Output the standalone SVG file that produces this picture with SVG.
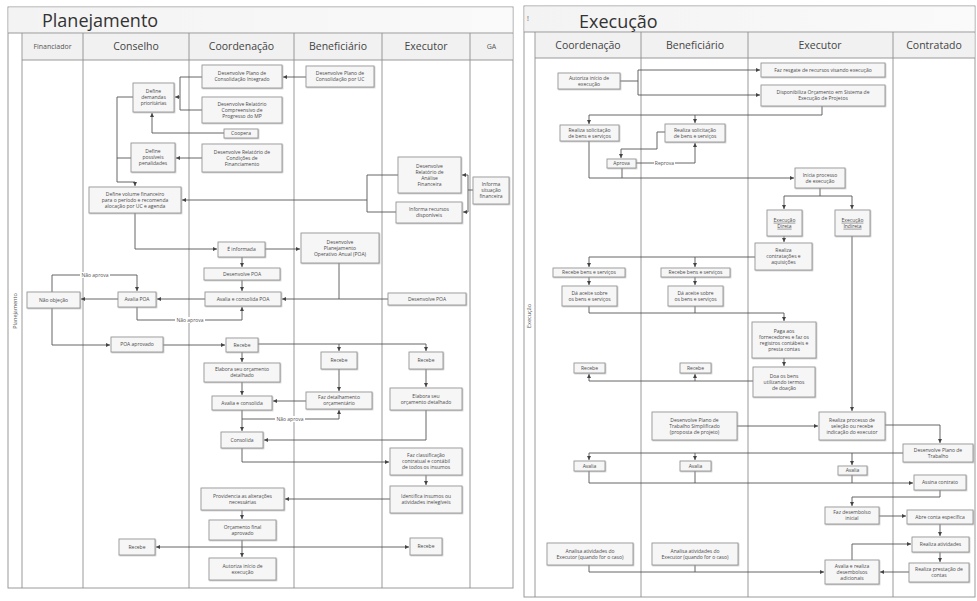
<svg xmlns="http://www.w3.org/2000/svg" width="977" height="601" viewBox="0 0 977 601">
<defs>
  <marker id="ah" viewBox="0 0 6 6" refX="6" refY="3" markerWidth="4" markerHeight="4" orient="auto" markerUnits="userSpaceOnUse">
    <path d="M0,0 L6,3 L0,6 z" fill="#444"/>
  </marker>
  <linearGradient id="band" x1="0" y1="0" x2="1" y2="0">
    <stop offset="0" stop-color="#f3f3f3"/>
    <stop offset="1" stop-color="#fafafa"/>
  </linearGradient>
  <filter id="sh" x="-10%" y="-10%" width="130%" height="140%">
    <feDropShadow dx="0.8" dy="0.8" stdDeviation="0.4" flood-color="#999" flood-opacity="0.6"/>
  </filter>
</defs>
<style>
  .frame{fill:#fff;stroke:#9a9a9a;stroke-width:1}
  .band{fill:url(#band)}
  .hdr{fill:#f1f1f1}
  .lane{stroke:#8f8f8f;stroke-width:0.9;fill:none}
  .title{font-family:"Open Sans","Liberation Sans",sans-serif;font-size:18px;fill:#333}
  .lh{font-family:"Open Sans","Liberation Sans",sans-serif;font-size:10.5px;fill:#444;text-anchor:middle}
  .lhs{font-family:"Open Sans","Liberation Sans",sans-serif;font-size:7px;fill:#555;text-anchor:middle}
  .pool{font-family:"Open Sans","Liberation Sans",sans-serif;font-size:5.5px;fill:#555;text-anchor:middle}
  .node rect{fill:#f6f6f6;stroke:#8c8c8c;stroke-width:0.8;filter:url(#sh)}
  .t{font-family:"Open Sans","Liberation Sans",sans-serif;font-size:5px;fill:#4a4a4a;text-anchor:middle}
  .u{text-decoration:underline}
  .ln{fill:none;stroke:#555;stroke-width:0.9}
  .ar{marker-end:url(#ah)}
  .lbl{font-family:"Open Sans","Liberation Sans",sans-serif;font-size:5px;fill:#555;text-anchor:middle}
  .lblbg{fill:#fff}
</style>

<rect width="977" height="601" fill="#fff"/>

<!-- ===== Planejamento pool ===== -->
<g id="pool-planejamento">
  <rect class="frame" x="8" y="7" width="505" height="581"/>
  <rect class="band" x="8.5" y="7.5" width="504" height="25.5"/>
  <rect class="hdr" x="22.5" y="33.5" width="490" height="26.5"/>
  <path class="lane" d="M8,33 H513 M22,60 H513 M22,33 V588 M83,33 V588 M189,33 V588 M294,33 V588 M382,33 V588 M470,33 V588"/>
  <text class="title" x="42" y="27">Planejamento</text>
  <text class="lhs" x="52.5" y="49">Financiador</text>
  <text class="lh" x="136" y="50">Conselho</text>
  <text class="lh" x="241.5" y="50">Coordenação</text>
  <text class="lh" x="338" y="50">Beneficiário</text>
  <text class="lh" x="426" y="50">Executor</text>
  <text class="lhs" x="491.5" y="49">GA</text>
  <text class="pool" transform="translate(17,311) rotate(-90)">Planejamento</text>
</g>

<!-- ===== Execução pool ===== -->
<g id="pool-execucao">
  <rect class="frame" x="524" y="6" width="451" height="591"/>
  <rect class="band" x="524.5" y="6.5" width="450" height="25.5"/>
  <rect class="hdr" x="535.5" y="32.5" width="439" height="25.5"/>
  <path class="lane" d="M524,32 H975 M535,58 H975 M535,32 V597 M641,32 V597 M748,32 V597 M893,32 V597"/>
  <text class="lhs" x="528" y="21">!</text>
  <text class="title" x="579" y="28">Execução</text>
  <text class="lh" x="588" y="49">Coordenação</text>
  <text class="lh" x="695" y="49">Beneficiário</text>
  <text class="lh" x="820" y="49">Executor</text>
  <text class="lh" x="934" y="49">Contratado</text>
  <text class="pool" transform="translate(531,316) rotate(-90)">Execução</text>
</g>

<!-- ===== connectors ===== -->
<g id="connectors">
  <!-- Planejamento -->
  <path class="ln ar" d="M306,77 H283"/>
  <path class="ln" d="M202,77 H180 V110 H202"/>
  <path class="ln ar" d="M180,97 H175"/>
  <path class="ln ar" d="M224,133 H152 V113"/>
  <path class="ln ar" d="M202,158 H176"/>
  <path class="ln ar" d="M133,97 H117 V182 H135 V186"/>
  <path class="ln" d="M131,158 H117"/>
  <path class="ln" d="M398,175 H367 V212 H396"/>
  <path class="ln ar" d="M367,200 H182"/>
  <path class="ln ar" d="M473,190 H468 V175 H462"/>
  <path class="ln ar" d="M468,190 V212 H463"/>
  <path class="ln ar" d="M135,213 V249 H217"/>
  <path class="ln ar" d="M265,249 H300"/>
  <path class="ln ar" d="M242,257 V267"/>
  <path class="ln ar" d="M242,280 V291"/>
  <path class="ln ar" d="M339,263 V299 H282"/>
  <path class="ln" d="M388,299 H339"/>
  <path class="ln ar" d="M205,299 H157"/>
  <path class="ln ar" d="M118,299 H81"/>
  <path class="ln ar" d="M52,292 V275 H137 V291"/>
  <path class="ln ar" d="M137,307 V320 H242 V307"/>
  <path class="ln ar" d="M52,308 V345 H110"/>
  <path class="ln ar" d="M163,345 H225"/>
  <path class="ln ar" d="M258,344 H426 V351"/>
  <path class="ln ar" d="M339,344 V351"/>
  <path class="ln ar" d="M242,352 V362"/>
  <path class="ln ar" d="M242,382 V395"/>
  <path class="ln ar" d="M339,369 V391"/>
  <path class="ln ar" d="M306,401 H273"/>
  <path class="ln ar" d="M242,410 V431"/>
  <path class="ln ar" d="M242,419 H339 V410"/>
  <path class="ln ar" d="M426,369 V387"/>
  <path class="ln ar" d="M426,410 V440 H264"/>
  <path class="ln ar" d="M242,448 V462 H389"/>
  <path class="ln ar" d="M426,475 V485"/>
  <path class="ln ar" d="M390,499 H285"/>
  <path class="ln ar" d="M242,510 V519"/>
  <path class="ln ar" d="M242,540 V557"/>
  <path class="ln ar" d="M242,547 H156"/>
  <path class="ln ar" d="M242,547 H409"/>
  <rect class="lblbg" x="80" y="272" width="30" height="6"/>
  <text class="lbl" x="95" y="276.8">Não aprova</text>
  <rect class="lblbg" x="175" y="317" width="30" height="6"/>
  <text class="lbl" x="190" y="321.8">Não aprova</text>
  <rect class="lblbg" x="275" y="416" width="30" height="6"/>
  <text class="lbl" x="290" y="420.8">Não aprova</text>

  <!-- Execução -->
  <path class="ln" d="M620,81 H638 M638,70 V95"/>
  <path class="ln ar" d="M638,70 H760"/>
  <path class="ln ar" d="M638,95 H760"/>
  <path class="ln ar" d="M822,106 V115 H589 V124"/>
  <path class="ln ar" d="M695,115 V123"/>
  <path class="ln ar" d="M589,141 V178 H794"/>
  <path class="ln" d="M622,168 V178"/>
  <path class="ln ar" d="M665,132 H657 V149 H621 V158"/>
  <path class="ln ar" d="M636,163 H695 V143"/>
  <rect class="lblbg" x="654" y="160" width="21" height="6"/>
  <text class="lbl" x="664.5" y="164.8">Reprova</text>
  <path class="ln" d="M820,188 V196 M784,196 H852"/>
  <path class="ln ar" d="M784,196 V209"/>
  <path class="ln ar" d="M852,196 V209"/>
  <path class="ln ar" d="M784,236 V242"/>
  <path class="ln ar" d="M755,257 H589 V267"/>
  <path class="ln ar" d="M695,257 V267"/>
  <path class="ln ar" d="M589,277 V285"/>
  <path class="ln ar" d="M695,277 V285"/>
  <path class="ln ar" d="M589,306 V313 H784 V321"/>
  <path class="ln" d="M695,306 V313"/>
  <path class="ln ar" d="M784,358 V366"/>
  <path class="ln ar" d="M753,381 H589 V374"/>
  <path class="ln ar" d="M695,381 V374"/>
  <path class="ln ar" d="M852,236 V411"/>
  <path class="ln ar" d="M737,426 H818"/>
  <path class="ln ar" d="M885,425 H940 V443"/>
  <path class="ln ar" d="M903,453 H589 V460"/>
  <path class="ln ar" d="M695,453 V460"/>
  <path class="ln ar" d="M852,453 V465"/>
  <path class="ln ar" d="M589,471 V483 H913"/>
  <path class="ln" d="M695,471 V483 M852,475 V483"/>
  <path class="ln ar" d="M940,490 V497 H852 V506"/>
  <path class="ln ar" d="M879,516 H906"/>
  <path class="ln ar" d="M940,524 V536"/>
  <path class="ln ar" d="M940,552 V562"/>
  <path class="ln ar" d="M909,572 H880"/>
  <path class="ln ar" d="M852,560 V544 H911"/>
  <path class="ln ar" d="M589,565 V572 H824"/>
  <path class="ln" d="M695,565 V572"/>
</g>

<!-- ===== Planejamento nodes ===== -->
<g id="p-coord-plano" class="node"><rect x="202" y="65" width="80" height="23"/><text class="t" x="242" y="75.3">Desenvolve Plano de<tspan x="242" dy="6">Consolidação Integrado</tspan></text></g>
<g id="p-coord-relatorio" class="node"><rect x="202" y="97" width="80" height="26"/><text class="t" x="242" y="105.8">Desenvolve Relatório<tspan x="242" dy="6">Compreensivo de</tspan><tspan x="242" dy="6">Progresso do MP</tspan></text></g>
<g id="p-coord-coopera" class="node"><rect x="224" y="129" width="34" height="9"/><text class="t" x="241" y="135.3">Coopera</text></g>
<g id="p-coord-condicoes" class="node"><rect x="202" y="144" width="80" height="28"/><text class="t" x="242" y="153.8">Desenvolve Relatório de<tspan x="242" dy="6">Condições de</tspan><tspan x="242" dy="6">Financiamento</tspan></text></g>
<g id="p-cons-demandas" class="node"><rect x="133" y="83" width="41" height="29"/><text class="t" x="153.5" y="93.3">Define<tspan x="153.5" dy="6">demandas</tspan><tspan x="153.5" dy="6">prioritárias</tspan></text></g>
<g id="p-cons-penalidades" class="node"><rect x="131" y="143" width="44" height="29"/><text class="t" x="153" y="153.3">Define<tspan x="153" dy="6">possíveis</tspan><tspan x="153" dy="6">penalidades</tspan></text></g>
<g id="p-cons-volume" class="node"><rect x="89" y="187" width="92" height="26"/><text class="t" x="135" y="195.8">Define volume financeiro<tspan x="135" dy="6">para o período e recomenda</tspan><tspan x="135" dy="6">alocação por UC e agenda</tspan></text></g>
<g id="p-ben-plano" class="node"><rect x="306" y="66" width="68" height="21"/><text class="t" x="340" y="75.3">Desenvolve Plano de<tspan x="340" dy="6">Consolidação por UC</tspan></text></g>
<g id="p-exe-relatorio" class="node"><rect x="398" y="157" width="63" height="36"/><text class="t" x="429.5" y="167.8">Desenvolve<tspan x="429.5" dy="6">Relatório de</tspan><tspan x="429.5" dy="6">Análise</tspan><tspan x="429.5" dy="6">Financeira</tspan></text></g>
<g id="p-exe-informa" class="node"><rect x="396" y="202" width="66" height="21"/><text class="t" x="429" y="211.3">Informa recursos<tspan x="429" dy="6">disponíveis</tspan></text></g>
<g id="p-ga-situacao" class="node"><rect x="473" y="177" width="36" height="27"/><text class="t" x="491" y="186.3">Informa<tspan x="491" dy="6">situação</tspan><tspan x="491" dy="6">financeira</tspan></text></g>
<g id="p-coord-informada" class="node"><rect x="218" y="242" width="47" height="15"/><text class="t" x="241.5" y="251.3">É informada</text></g>
<g id="p-ben-poa" class="node"><rect x="301" y="233" width="78" height="30"/><text class="t" x="340" y="243.8">Desenvolve<tspan x="340" dy="6">Planejamento</tspan><tspan x="340" dy="6">Operativo Anual (POA)</tspan></text></g>
<g id="p-coord-dpoa" class="node"><rect x="204" y="268" width="76" height="12"/><text class="t" x="242" y="275.8">Desenvolve POA</text></g>
<g id="p-coord-acpoa" class="node"><rect x="205" y="292" width="76" height="14"/><text class="t" x="243" y="300.8">Avalia e consolida POA</text></g>
<g id="p-exe-dpoa" class="node"><rect x="388" y="293" width="78" height="12"/><text class="t" x="427" y="300.8">Desenvolve POA</text></g>
<g id="p-cons-avalia" class="node"><rect x="118" y="292" width="38" height="15"/><text class="t" x="137" y="301.3">Avalia POA</text></g>
<g id="p-fin-nobjecao" class="node"><rect x="27" y="292" width="53" height="16"/><text class="t" x="53.5" y="301.8">Não objeção</text></g>
<g id="p-cons-aprovado" class="node"><rect x="111" y="337" width="52" height="15"/><text class="t" x="137" y="346.3">POA aprovado</text></g>
<g id="p-coord-recebe" class="node"><rect x="226" y="338" width="32" height="14"/><text class="t" x="242" y="346.8">Recebe</text></g>
<g id="p-ben-recebe" class="node"><rect x="321" y="352" width="36" height="17"/><text class="t" x="339" y="362.3">Recebe</text></g>
<g id="p-exe-recebe" class="node"><rect x="409" y="352" width="34" height="17"/><text class="t" x="426" y="362.3">Recebe</text></g>
<g id="p-coord-elabora" class="node"><rect x="204" y="363" width="76" height="19"/><text class="t" x="242" y="371.3">Elabora seu orçamento<tspan x="242" dy="6">detalhado</tspan></text></g>
<g id="p-ben-detalhamento" class="node"><rect x="306" y="392" width="66" height="17"/><text class="t" x="339" y="399.3">Faz detalhamento<tspan x="339" dy="6">orçamentário</tspan></text></g>
<g id="p-exe-elabora" class="node"><rect x="390" y="388" width="72" height="22"/><text class="t" x="426" y="397.8">Elabora seu<tspan x="426" dy="6">orçamento detalhado</tspan></text></g>
<g id="p-coord-avconsolida" class="node"><rect x="212" y="396" width="60" height="14"/><text class="t" x="242" y="404.8">Avalia e consolida</text></g>
<g id="p-coord-consolida" class="node"><rect x="221" y="432" width="42" height="16"/><text class="t" x="242" y="441.8">Consolida</text></g>
<g id="p-exe-classificacao" class="node"><rect x="390" y="448" width="72" height="27"/><text class="t" x="426" y="457.3">Faz classificação<tspan x="426" dy="6">contratual e contábil</tspan><tspan x="426" dy="6">de todos os insumos</tspan></text></g>
<g id="p-exe-identifica" class="node"><rect x="390" y="486" width="72" height="27"/><text class="t" x="426" y="498.3">Identifica insumos ou<tspan x="426" dy="6">atividades inelegíveis</tspan></text></g>
<g id="p-coord-providencia" class="node"><rect x="201" y="488" width="83" height="22"/><text class="t" x="242.5" y="497.8">Providencia as alterações<tspan x="242.5" dy="6">necessárias</tspan></text></g>
<g id="p-coord-orcamento" class="node"><rect x="209" y="520" width="67" height="20"/><text class="t" x="242.5" y="528.8">Orçamento final<tspan x="242.5" dy="6">aprovado</tspan></text></g>
<g id="p-coord-autoriza" class="node"><rect x="209" y="558" width="67" height="22"/><text class="t" x="242.5" y="567.8">Autoriza início de<tspan x="242.5" dy="6">execução</tspan></text></g>
<g id="p-cons-recebe" class="node"><rect x="119" y="539" width="36" height="16"/><text class="t" x="137" y="548.8">Recebe</text></g>
<g id="p-exe-recebe2" class="node"><rect x="410" y="538" width="32" height="17"/><text class="t" x="426" y="548.3">Recebe</text></g>

<!-- ===== Execução nodes ===== -->
<g id="e-coord-autoriza" class="node"><rect x="558" y="73" width="62" height="16"/><text class="t" x="589" y="79.8">Autoriza início de<tspan x="589" dy="6">execução</tspan></text></g>
<g id="e-exe-resgate" class="node"><rect x="761" y="63" width="124" height="14"/><text class="t" x="823" y="71.8">Faz resgate de recursos visando execução</text></g>
<g id="e-exe-disponibiliza" class="node"><rect x="761" y="85" width="124" height="21"/><text class="t" x="823" y="94.3">Disponibiliza Orçamento em Sistema de<tspan x="823" dy="6">Execução de Projetos</tspan></text></g>
<g id="e-coord-solicitacao" class="node"><rect x="560" y="125" width="59" height="16"/><text class="t" x="589.5" y="131.8">Realiza solicitação<tspan x="589.5" dy="6">de bens e serviços</tspan></text></g>
<g id="e-ben-solicitacao" class="node"><rect x="665" y="124" width="60" height="18"/><text class="t" x="695" y="131.8">Realiza solicitação<tspan x="695" dy="6">de bens e serviços</tspan></text></g>
<g id="e-coord-aprova" class="node"><rect x="607" y="159" width="29" height="9"/><text class="t" x="621.5" y="165.3">Aprova</text></g>
<g id="e-exe-inicia" class="node"><rect x="795" y="168" width="50" height="20"/><text class="t" x="820" y="176.8">Inicia processo<tspan x="820" dy="6">de execução</tspan></text></g>
<g id="e-exe-direta" class="node"><rect x="767" y="210" width="35" height="26"/><text class="t u" x="784.5" y="221.8">Execução<tspan x="784.5" dy="6">Direta</tspan></text></g>
<g id="e-exe-indireta" class="node"><rect x="835" y="210" width="35" height="26"/><text class="t u" x="852.5" y="221.8">Execução<tspan x="852.5" dy="6">Indireta</tspan></text></g>
<g id="e-exe-contratacoes" class="node"><rect x="755" y="243" width="57" height="27"/><text class="t" x="783.5" y="252.3">Realiza<tspan x="783.5" dy="6">contratações e</tspan><tspan x="783.5" dy="6">aquisições</tspan></text></g>
<g id="e-coord-recebebens" class="node"><rect x="553" y="268" width="72" height="9"/><text class="t" x="589" y="274.3">Recebe bens e serviços</text></g>
<g id="e-ben-recebebens" class="node"><rect x="661" y="268" width="69" height="9"/><text class="t" x="695.5" y="274.3">Recebe bens e serviços</text></g>
<g id="e-coord-aceite" class="node"><rect x="562" y="286" width="55" height="20"/><text class="t" x="589.5" y="294.8">Dá aceite sobre<tspan x="589.5" dy="6">os bens e serviços</tspan></text></g>
<g id="e-ben-aceite" class="node"><rect x="668" y="286" width="55" height="20"/><text class="t" x="695.5" y="294.8">Dá aceite sobre<tspan x="695.5" dy="6">os bens e serviços</tspan></text></g>
<g id="e-exe-paga" class="node"><rect x="752" y="322" width="64" height="36"/><text class="t" x="784" y="332.8">Paga aos<tspan x="784" dy="6">fornecedores e faz os</tspan><tspan x="784" dy="6">registros contábeis e</tspan><tspan x="784" dy="6">presta contas</tspan></text></g>
<g id="e-exe-doa" class="node"><rect x="753" y="367" width="62" height="30"/><text class="t" x="784" y="377.8">Doa os bens<tspan x="784" dy="6">utilizando termos</tspan><tspan x="784" dy="6">de doação</tspan></text></g>
<g id="e-coord-recebe" class="node"><rect x="574" y="363" width="31" height="10"/><text class="t" x="589.5" y="369.8">Recebe</text></g>
<g id="e-ben-recebe" class="node"><rect x="680" y="363" width="31" height="10"/><text class="t" x="695.5" y="369.8">Recebe</text></g>
<g id="e-ben-plano" class="node"><rect x="652" y="412" width="85" height="28"/><text class="t" x="694.5" y="421.8">Desenvolve Plano de<tspan x="694.5" dy="6">Trabalho Simplificado</tspan><tspan x="694.5" dy="6">(proposta de projeto)</tspan></text></g>
<g id="e-exe-selecao" class="node"><rect x="819" y="412" width="66" height="28"/><text class="t" x="852" y="421.8">Realiza processo de<tspan x="852" dy="6">seleção ou recebe</tspan><tspan x="852" dy="6">indicação do executor</tspan></text></g>
<g id="e-con-plano" class="node"><rect x="903" y="444" width="70" height="18"/><text class="t" x="938" y="451.8">Desenvolve Plano de<tspan x="938" dy="6">Trabalho</tspan></text></g>
<g id="e-coord-avalia" class="node"><rect x="574" y="461" width="31" height="10"/><text class="t" x="589.5" y="467.8">Avalia</text></g>
<g id="e-ben-avalia" class="node"><rect x="680" y="461" width="31" height="10"/><text class="t" x="695.5" y="467.8">Avalia</text></g>
<g id="e-exe-avalia" class="node"><rect x="838" y="466" width="29" height="9"/><text class="t" x="852.5" y="472.3">Avalia</text></g>
<g id="e-con-assina" class="node"><rect x="914" y="475" width="52" height="15"/><text class="t" x="940" y="484.3">Assina contrato</text></g>
<g id="e-exe-desembolso" class="node"><rect x="825" y="507" width="54" height="17"/><text class="t" x="852" y="514.3">Faz desembolso<tspan x="852" dy="6">inicial</tspan></text></g>
<g id="e-con-conta" class="node"><rect x="907" y="510" width="66" height="14"/><text class="t" x="940" y="518.8">Abre conta específica</text></g>
<g id="e-con-atividades" class="node"><rect x="912" y="537" width="57" height="15"/><text class="t" x="940.5" y="546.3">Realiza atividades</text></g>
<g id="e-exe-adicionais" class="node"><rect x="825" y="560" width="54" height="24"/><text class="t" x="852" y="567.8">Avalia e realiza<tspan x="852" dy="6">desembolsos</tspan><tspan x="852" dy="6">adicionais</tspan></text></g>
<g id="e-con-prestacao" class="node"><rect x="909" y="563" width="60" height="19"/><text class="t" x="939" y="571.3">Realiza prestação de<tspan x="939" dy="6">contas</tspan></text></g>
<g id="e-coord-analisa" class="node"><rect x="547" y="543" width="86" height="22"/><text class="t" x="590" y="552.8">Analisa atividades do<tspan x="590" dy="6">Executor (quando for o caso)</tspan></text></g>
<g id="e-ben-analisa" class="node"><rect x="652" y="543" width="86" height="22"/><text class="t" x="695" y="552.8">Analisa atividades do<tspan x="695" dy="6">Executor (quando for o caso)</tspan></text></g>
</svg>
